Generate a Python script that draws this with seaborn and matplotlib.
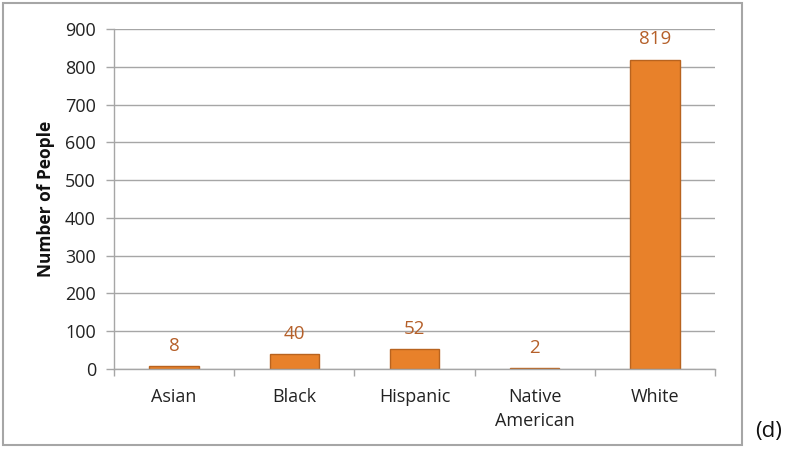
import matplotlib
matplotlib.use("Agg")
import matplotlib.pyplot as plt
import seaborn as sns
import pandas as pd
from matplotlib.patches import Rectangle
from matplotlib.ticker import FixedLocator

categories = ["Asian", "Black", "Hispanic", "Native\nAmerican", "White"]
values = [8, 40, 52, 2, 819]
y_ticks = [0, 100, 200, 300, 400, 500, 600, 700, 800, 900]

sns.set_theme(style="white")
plt.rcParams["font.family"] = ["Open Sans", "DejaVu Sans"]

df = pd.DataFrame({"cat": categories, "val": values})

fig = plt.figure(figsize=(8, 4.5), dpi=100)
ax = fig.add_axes([0.1425, 0.18, 0.7515, 0.7556])

sns.barplot(data=df, x="cat", y="val", ax=ax, color="#E8812A",
            edgecolor="#B8631F", linewidth=1.0, width=0.41, saturation=1)

ax.set_ylim(0, 900)
ax.set_xlim(-0.5, 4.5)
ax.set_yticks(y_ticks)
ax.set_yticklabels([str(t) for t in y_ticks], fontsize=13, color="#222222")
ax.set_xticks(range(len(categories)))
ax.set_xticklabels(categories, fontsize=13, color="#222222", linespacing=1.4)
ax.tick_params(axis="x", which="major", length=0, pad=14)
ax.tick_params(axis="y", which="major", length=6, width=1, color="#A6A6A6", pad=7, left=True)
ax.xaxis.set_minor_locator(FixedLocator([-0.5, 0.5, 1.5, 2.5, 3.5, 4.5]))
ax.tick_params(axis="x", which="minor", length=5, width=1, color="#A6A6A6", bottom=True)

ax.set_xlabel("")
ax.set_ylabel("Number of People", fontsize=12.5, fontweight="bold", color="#111111", labelpad=7)

ax.grid(axis="y", color="#A6A6A6", linewidth=1)
ax.set_axisbelow(True)
for s in ["top", "right"]:
    ax.spines[s].set_visible(False)
ax.spines["left"].set_color("#A6A6A6")
ax.spines["bottom"].set_color("#A6A6A6")
ax.spines["left"].set_linewidth(1)
ax.spines["bottom"].set_linewidth(1)

for i, v in enumerate(values):
    ax.annotate(str(v), (i, v), xytext=(0, 14.5), textcoords="offset points",
                ha="center", va="center", fontsize=13.5, color="#B5602A")

fig.patches.append(Rectangle((3 / 800, 1 - 445 / 450), 739 / 800, 442 / 450,
                             transform=fig.transFigure, fill=False,
                             edgecolor="#A6A6A6", linewidth=1.5))
fig.text(769 / 800, 1 - 432 / 450, "(d)", fontsize=16, ha="center", va="center",
         color="#111111")

fig.savefig("out.png", dpi=100)
